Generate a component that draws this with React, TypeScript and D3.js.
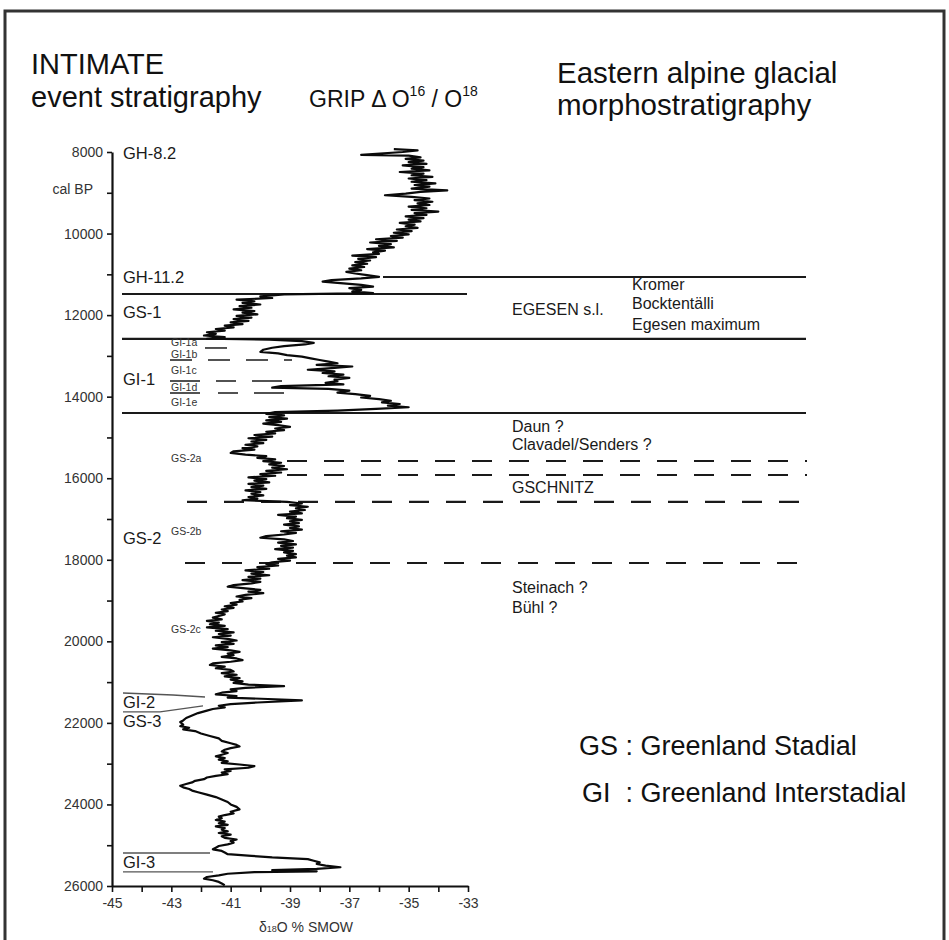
import React, { useEffect, useRef } from "react";
import * as d3 from "d3";

const W = 949;
const H = 940;
const FONT = "'Liberation Sans', Arial, Helvetica, sans-serif";

// GRIP δ18O record: [age cal BP, δ18O ‰]
const holoceneSeries: [number, number][] = [
  [7930, -35.5], [7960, -34.7], [8000, -35.2], [8070, -36.6], [8090, -35.0], [8130, -34.6], [8170, -35.1],
  [8210, -34.5], [8250, -35.0], [8290, -34.4], [8330, -35.2], [8370, -34.5], [8410, -34.9], [8450, -34.3],
  [8490, -35.3], [8530, -34.5], [8570, -34.9], [8610, -34.2], [8650, -35.0], [8690, -34.4], [8730, -34.9],
  [8770, -34.1], [8810, -34.8], [8850, -34.3], [8900, -34.9], [8940, -33.7], [8980, -34.6], [9020, -35.1],
  [9060, -35.8], [9100, -34.9], [9140, -34.3], [9180, -34.8], [9220, -34.2], [9260, -34.7], [9300, -34.3],
  [9340, -35.0], [9380, -34.4], [9420, -34.9], [9460, -34.0], [9500, -34.8], [9540, -34.4], [9580, -35.1],
  [9620, -34.5], [9660, -35.0], [9700, -34.6], [9740, -35.3], [9780, -34.8], [9820, -35.1], [9860, -34.7],
  [9900, -35.4], [9940, -34.9], [9980, -35.5], [10020, -35.0], [10060, -35.6], [10100, -35.2], [10140, -36.1],
  [10180, -35.4], [10220, -36.3], [10260, -35.6], [10300, -36.0], [10340, -35.5], [10380, -36.4], [10420, -35.8],
  [10460, -36.2], [10500, -36.0], [10540, -36.9], [10580, -36.1], [10620, -36.7], [10660, -36.3], [10700, -36.8],
  [10740, -36.4], [10780, -36.9], [10820, -36.5], [10860, -37.0], [10900, -36.6], [10940, -37.1], [10980, -36.8],
  [11020, -36.4], [11060, -36.0], [11100, -36.6], [11140, -37.6], [11180, -37.9], [11220, -37.2], [11260, -36.6],
  [11300, -36.2], [11340, -37.0], [11380, -36.6], [11420, -36.9], [11460, -36.2],
];

const gs1Series: [number, number][] = [
  [11490, -39.2], [11500, -39.3], [11540, -40.0], [11580, -39.6], [11620, -40.8], [11660, -40.2], [11700, -40.6],
  [11740, -40.0], [11780, -40.7], [11820, -40.3], [11860, -40.9], [11900, -40.2], [11940, -40.6], [11980, -40.1],
  [12020, -40.8], [12060, -40.3], [12100, -40.9], [12140, -40.4], [12180, -41.0], [12220, -40.6], [12260, -41.2],
  [12300, -40.9], [12340, -41.5], [12380, -41.2], [12420, -41.8], [12460, -41.5], [12500, -41.9], [12540, -41.2],
  [12580, -41.8],
];

const gi1Series: [number, number][] = [
  [12600, -39.7], [12640, -38.6], [12680, -38.2], [12720, -38.5], [12760, -39.2], [12800, -39.6], [12850, -39.9],
  [12900, -40.0], [12940, -39.4], [12980, -39.1], [13020, -38.6], [13060, -38.3], [13100, -38.0], [13140, -37.7],
  [13180, -37.4], [13220, -38.1], [13260, -36.9], [13300, -37.6], [13340, -38.4], [13380, -37.5], [13420, -37.9],
  [13460, -37.2], [13500, -37.7], [13540, -37.0], [13580, -37.5], [13620, -37.4], [13660, -37.8], [13700, -37.2],
  [13740, -39.3], [13780, -39.6], [13810, -37.7], [13850, -37.0], [13900, -37.4], [13940, -36.8], [13980, -36.3],
  [14020, -36.6], [14060, -36.0], [14100, -35.6], [14140, -35.9], [14180, -35.3], [14220, -35.7], [14260, -35.0],
  [14300, -36.1], [14340, -37.4], [14380, -39.5],
];

const gs2Series: [number, number][] = [
  [14420, -39.8], [14460, -39.2], [14500, -39.7], [14540, -39.1], [14580, -39.8], [14620, -39.3], [14660, -39.9],
  [14700, -39.4], [14740, -39.0], [14780, -39.5], [14820, -39.2], [14860, -39.8], [14900, -39.5], [14940, -40.2],
  [14980, -39.6], [15020, -40.4], [15060, -39.8], [15100, -40.3], [15140, -39.9], [15180, -40.5], [15220, -40.1],
  [15260, -40.6], [15300, -40.2], [15340, -40.9], [15380, -41.0], [15420, -40.5], [15460, -39.8], [15500, -40.1],
  [15540, -39.5], [15580, -39.9], [15620, -39.3], [15660, -39.7], [15700, -39.2], [15740, -39.6], [15780, -39.1],
  [15820, -39.8], [15860, -39.3], [15900, -40.0], [15940, -39.5], [15980, -40.4], [16020, -39.8], [16060, -40.2],
  [16100, -39.7], [16140, -40.4], [16180, -39.9], [16220, -40.3], [16260, -39.8], [16300, -40.5], [16340, -40.0],
  [16380, -40.3], [16420, -39.9], [16460, -40.4], [16500, -40.1], [16540, -40.6], [16580, -39.1], [16620, -38.6],
  [16660, -39.0], [16700, -38.4], [16740, -38.8], [16780, -38.5], [16820, -39.0], [16860, -38.6], [16900, -39.4],
  [16940, -38.8], [16980, -39.1], [17020, -38.6], [17060, -39.0], [17100, -38.7], [17140, -39.2], [17180, -38.7],
  [17220, -39.0], [17260, -38.6], [17300, -39.3], [17340, -38.8], [17380, -39.2], [17420, -39.8], [17460, -40.0],
  [17500, -39.2], [17540, -38.9], [17580, -39.4], [17620, -38.8], [17660, -39.3], [17700, -38.9], [17740, -39.5],
  [17780, -38.9], [17820, -39.2], [17860, -38.8], [17900, -39.1], [17940, -38.8], [17980, -39.4], [18020, -39.0],
  [18060, -39.6], [18100, -39.8], [18140, -39.4], [18180, -40.1], [18220, -39.7], [18260, -40.5], [18300, -39.9],
  [18340, -40.3], [18380, -39.7], [18420, -40.4], [18460, -40.0], [18500, -40.6], [18540, -40.0], [18580, -40.3],
  [18620, -40.9], [18660, -41.1], [18700, -40.5], [18740, -40.0], [18780, -40.4], [18820, -39.9], [18860, -40.5],
  [18900, -40.8], [18940, -40.3], [18980, -40.7], [19020, -40.6], [19060, -41.0], [19100, -40.8], [19140, -41.2],
  [19180, -40.9], [19220, -41.3], [19260, -41.1], [19300, -41.5], [19340, -41.2], [19380, -41.4], [19420, -41.6],
  [19460, -41.3], [19500, -41.8], [19540, -41.4], [19580, -41.7], [19620, -41.2], [19660, -41.8], [19700, -41.1],
  [19740, -41.5], [19780, -40.9], [19820, -41.4], [19860, -41.0], [19900, -41.6], [19940, -41.1], [19980, -40.8],
  [20020, -41.3], [20060, -40.9], [20100, -41.5], [20140, -41.1], [20180, -41.6], [20220, -41.0], [20260, -40.7],
  [20300, -41.1], [20340, -40.9], [20380, -41.3], [20420, -40.8], [20460, -40.6], [20500, -41.0], [20540, -41.6],
  [20580, -41.7], [20620, -41.2], [20660, -41.5], [20700, -41.0], [20740, -40.9], [20780, -41.3], [20820, -40.8],
  [20860, -41.2], [20900, -40.7], [20940, -41.0], [20980, -40.6], [21020, -40.9], [21060, -40.4], [21100, -39.2],
  [21140, -40.5], [21180, -41.0], [21220, -40.8], [21260, -41.3], [21300, -41.5], [21340, -40.8], [21380, -41.1],
  [21420, -39.5], [21450, -38.6], [21500, -40.1], [21540, -41.0], [21580, -41.4], [21620, -41.2], [21660, -41.6],
  [21700, -41.8],
];

const gs3Series: [number, number][] = [
  [21760, -42.1], [21820, -42.3], [21880, -42.5], [21940, -42.6], [21980, -42.7], [22040, -42.6], [22080, -42.7],
  [22120, -42.4], [22160, -42.6], [22200, -42.2], [22260, -42.0], [22320, -41.7], [22380, -41.4], [22440, -41.3],
  [22500, -41.0], [22540, -40.8], [22580, -40.7], [22620, -41.0], [22660, -41.2], [22700, -41.3], [22740, -41.1],
  [22780, -41.3], [22820, -41.5], [22860, -41.2], [22900, -41.4], [22940, -41.1], [22980, -41.3], [23020, -40.7],
  [23060, -40.2], [23100, -40.4], [23140, -41.2], [23180, -41.0], [23220, -41.3], [23260, -41.1], [23300, -41.5],
  [23340, -41.8], [23380, -41.9], [23420, -42.2], [23460, -42.3], [23500, -42.5], [23540, -42.7], [23580, -42.6],
  [23620, -42.4], [23660, -42.3], [23700, -42.1], [23760, -41.8], [23820, -41.5], [23880, -41.3], [23940, -41.1],
  [24000, -41.0], [24060, -40.8], [24120, -40.7], [24180, -41.0], [24220, -40.9], [24260, -41.2], [24300, -41.4],
  [24340, -41.3], [24380, -41.5], [24420, -41.2], [24460, -41.4], [24500, -41.1], [24540, -41.5], [24580, -41.2],
  [24620, -41.3], [24660, -41.1], [24700, -41.4], [24740, -41.0], [24780, -41.3], [24820, -41.2], [24860, -40.8],
  [24900, -41.0], [24940, -40.9], [24980, -41.1], [25020, -41.4], [25060, -41.5], [25100, -41.6], [25140, -41.3],
  [25180, -41.2], [25220, -41.1], [25260, -40.3], [25300, -39.6], [25340, -38.4], [25380, -38.2], [25420, -38.0],
  [25460, -38.1], [25500, -37.8], [25540, -37.3], [25580, -38.1], [25610, -39.6], [25640, -38.1], [25660, -40.2],
  [25700, -41.1], [25740, -41.4], [25780, -41.8], [25820, -41.9], [25860, -41.6], [25900, -41.4], [25940, -41.3],
  [25980, -41.2],
];

// Axis ticks
const yTicks = d3.range(8000, 26001, 1000);
const xTicks = d3.range(-45, -32, 1);

// Event boundaries (ages, cal BP)
const gh112Age = 11065;
const gs1TopAge = 11482;
const gi1TopAge = 12585;
const gs2TopAge = 14400;
const dashedAges = [15577, 15920, 16580, 18078];
const gi1SubAges = [12806, 13100, 13615, 13910];
const gi2Ages = [21266, 21731];
const gi3Ages = [25190, 25654];

// INTIMATE labels (large)
const eventLabels = ["GH-8.2", "GH-11.2", "GS-1", "GI-1", "GS-2", "GI-2", "GS-3", "GI-3"];
const eventLabelAges = [8172, 11212, 12070, 13713, 17612, 21633, 22099, 25556];
// small sub-event labels
const subLabels = ["GI-1a", "GI-1b", "GI-1c", "GI-1d", "GI-1e", "GS-2a", "GS-2b", "GS-2c"];
const subLabelAges = [12757, 13051, 13443, 13860, 14228, 15600, 17391, 19794];
// Alpine stratigraphy labels
const alpineLabels = ["EGESEN s.l.", "Daun ?", "Clavadel/Senders ?", "GSCHNITZ", "Steinach ?", "Bühl ?"];
const alpineLabelAges = [11997, 14866, 15307, 16361, 18813, 19303];
const egesenStages = ["Kromer", "Bocktentälli", "Egesen maximum"];
const egesenStageAges = [11384, 11850, 12365];

export default function App() {
  const ref = useRef<SVGSVGElement>(null);

  useEffect(() => {
    const svg = d3.select(ref.current);
    svg.selectAll("*").remove();

    const x = d3.scaleLinear().domain([-45, -33]).range([112, 468]);
    const y = d3.scaleLinear().domain([8000, 26000]).range([152, 886]);

    svg.append("rect").attr("x", 0).attr("y", 0).attr("width", W).attr("height", H).attr("fill", "#fff");
    // frame
    svg.append("rect").attr("x", 5).attr("y", 11).attr("width", 939).attr("height", 960)
      .attr("fill", "none").attr("stroke", "#333").attr("stroke-width", 3);

    // Titles
    const t = svg.append("g").attr("font-family", FONT).attr("fill", "#111");
    t.append("text").attr("x", 31).attr("y", 74).attr("font-size", 29).text("INTIMATE");
    t.append("text").attr("x", 31).attr("y", 107).attr("font-size", 29).text("event stratigraphy");
    const grip = t.append("text").attr("x", 309).attr("y", 107).attr("font-size", 23);
    grip.append("tspan").text("GRIP Δ O");
    grip.append("tspan").attr("font-size", 14).attr("dy", -11).text("16");
    grip.append("tspan").attr("dy", 11).text(" / O");
    grip.append("tspan").attr("font-size", 14).attr("dy", -11).text("18");
    t.append("text").attr("x", 557).attr("y", 83).attr("font-size", 29.5).text("Eastern alpine glacial");
    t.append("text").attr("x", 557).attr("y", 115).attr("font-size", 29.5).text("morphostratigraphy");

    // Legend
    t.append("text").attr("x", 579).attr("y", 755).attr("font-size", 27).style("white-space", "pre")
      .text("GS : Greenland Stadial");
    t.append("text").attr("x", 582).attr("y", 802).attr("font-size", 27).style("white-space", "pre")
      .text("GI  : Greenland Interstadial");

    // Axes
    const yAxis = d3.axisLeft(y).tickValues(yTicks).tickSize(5).tickSizeOuter(0).tickPadding(4)
      .tickFormat((d) => (+d % 2000 === 0 ? String(d) : ""));
    const gy = svg.append("g").attr("transform", "translate(112,0)").call(yAxis);
    const xAxis = d3.axisBottom(x).tickValues(xTicks).tickSize(6).tickSizeOuter(0).tickPadding(6)
      .tickFormat((d) => ((+d + 45) % 2 === 0 ? String(d) : ""));
    const gx = svg.append("g").attr("transform", "translate(0,886)").call(xAxis);
    [gx, gy].forEach((g) => {
      g.select(".domain").attr("stroke", "#111").attr("stroke-width", 2.2);
      g.selectAll(".tick line").attr("stroke", "#111").attr("stroke-width", 1.6);
      g.selectAll(".tick text").attr("font-family", FONT).attr("font-size", 14).attr("fill", "#333");
    });
    svg.append("text").attr("x", 93).attr("y", 194).attr("text-anchor", "end")
      .attr("font-family", FONT).attr("font-size", 14).attr("fill", "#333").text("cal BP");
    const xl = svg.append("text").attr("x", 306).attr("y", 932).attr("text-anchor", "middle")
      .attr("font-family", FONT).attr("font-size", 14).attr("fill", "#333");
    xl.append("tspan").text("δ");
    xl.append("tspan").attr("font-size", 9).text("18");
    xl.append("tspan").text("O % SMOW");

    // Boundary lines
    const lines = svg.append("g").attr("stroke", "#1a1a1a").attr("fill", "none");
    const hline = (age: number, x0: number, x1: number, w = 2, dash?: string) => {
      const l = lines.append("line").attr("x1", x0).attr("x2", x1).attr("y1", y(age)).attr("y2", y(age))
        .attr("stroke-width", w);
      if (dash) l.attr("stroke-dasharray", dash);
    };
    hline(gh112Age, 383, 806, 2);
    hline(gs1TopAge, 122, 467, 2);
    hline(gi1TopAge, 122, 806, 2.2);
    hline(gs2TopAge, 122, 806, 2.2);
    hline(dashedAges[0], 287, 807, 2, "20,17");
    hline(dashedAges[1], 287, 807, 2, "20,17");
    hline(dashedAges[2], 187, 800, 2.2, "20,17");
    hline(dashedAges[3], 185, 807, 2, "20,17");
    hline(gi1SubAges[0], 205, 227, 1.5);
    hline(gi1SubAges[1], 170, 292, 1.5, "22,16");
    hline(gi1SubAges[2], 170, 292, 1.5, "30,16,20,16");
    hline(gi1SubAges[3], 170, 292, 1.5, "30,18,20,16");

    // GI-2 and GI-3 annotation lines
    const ann = svg.append("g").attr("stroke", "#555").attr("fill", "none").attr("stroke-width", 1.4);
    ann.append("path").attr("d", `M123,${y(gi2Ages[0])} L173,${y(gi2Ages[0]) + 2} L205,${y(gi2Ages[0]) + 4}`);
    ann.append("path").attr("d", `M123,${y(gi2Ages[1])} L160,${y(gi2Ages[1])} L203,${y(gi2Ages[1]) - 6}`);
    ann.append("line").attr("x1", 123).attr("x2", 210).attr("y1", y(gi3Ages[0])).attr("y2", y(gi3Ages[0]));
    ann.append("line").attr("x1", 123).attr("x2", 213).attr("y1", y(gi3Ages[1])).attr("y2", y(gi3Ages[1]));

    // Curve
    const series = [...holoceneSeries, ...gs1Series, ...gi1Series, ...gs2Series, ...gs3Series];
    const line = d3.line<[number, number]>().x((d) => x(d[1])).y((d) => y(d[0])).curve(d3.curveLinear);
    svg.append("path").datum(series).attr("d", line).attr("fill", "none").attr("stroke", "#0a0a0a")
      .attr("stroke-width", 2.2).attr("stroke-linejoin", "round");

    // Event labels
    const lab = svg.append("g").attr("font-family", FONT).attr("fill", "#1a1a1a");
    eventLabels.forEach((s, i) => {
      lab.append("text").attr("x", 123).attr("y", y(eventLabelAges[i])).attr("font-size", 16.5).text(s);
    });
    subLabels.forEach((s, i) => {
      lab.append("text").attr("x", 171).attr("y", y(subLabelAges[i])).attr("font-size", 10.5)
        .attr("fill", "#333").text(s);
    });
    alpineLabels.forEach((s, i) => {
      lab.append("text").attr("x", 512).attr("y", y(alpineLabelAges[i])).attr("font-size", 16).text(s);
    });
    egesenStages.forEach((s, i) => {
      lab.append("text").attr("x", 632).attr("y", y(egesenStageAges[i])).attr("font-size", 16).text(s);
    });
  }, []);

  return (
    <svg
      ref={ref}
      width={W}
      height={H}
      style={{ position: "absolute", left: 0, top: 0, display: "block", background: "#fff" }}
    />
  );
}
